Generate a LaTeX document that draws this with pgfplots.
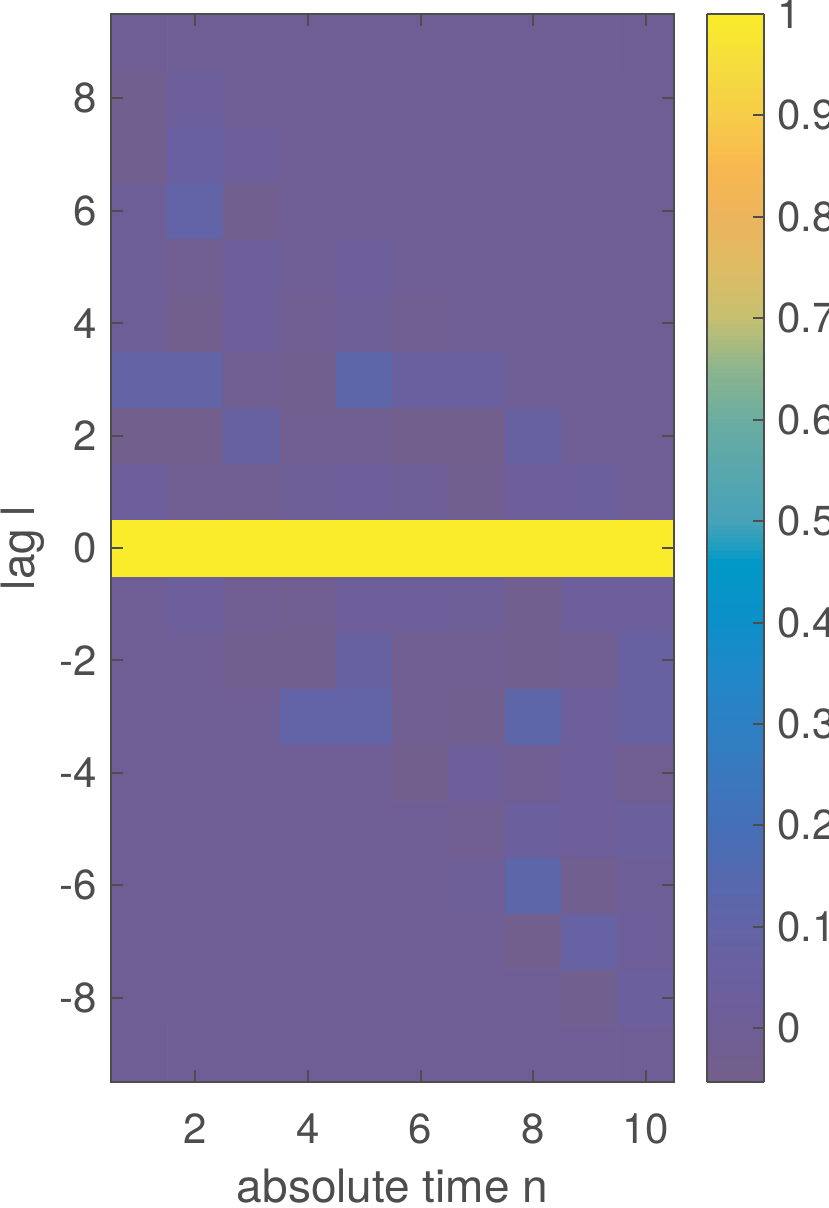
\documentclass[border=0pt]{standalone}
\usepackage{pgfplots}
\pgfplotsset{compat=1.18}
\usepackage{fontspec}
\setmainfont{TeX Gyre Heros}
\definecolor{axgray}{RGB}{77,77,77}
\pgfplotsset{
  colormap={mattmap}{
    rgb255(0pt)=(115,95,138)
    rgb255(53pt)=(111,94,149)
    rgb255(103pt)=(106,95,159)
    rgb255(153pt)=(99,100,167)
    rgb255(203pt)=(86,105,175)
    rgb255(253pt)=(68,112,184)
    rgb255(303pt)=(58,120,190)
    rgb255(353pt)=(46,128,196)
    rgb255(403pt)=(31,136,200)
    rgb255(453pt)=(13,144,201)
    rgb255(513pt)=(0,153,198)
    rgb255(530pt)=(35,158,192)
    rgb255(553pt)=(71,162,184)
    rgb255(603pt)=(88,167,174)
    rgb255(653pt)=(106,173,160)
    rgb255(703pt)=(140,181,142)
    rgb255(753pt)=(197,192,112)
    rgb255(803pt)=(222,188,100)
    rgb255(853pt)=(236,180,92)
    rgb255(903pt)=(249,184,80)
    rgb255(953pt)=(246,204,72)
    rgb255(1003pt)=(245,221,62)
    rgb255(1053pt)=(250,236,42)
  },
  mybox/.style={
    axis line style={axgray, line width=1bp},
    every tick/.style={axgray, line width=1bp},
    tick label style={text=axgray, font=\fontsize{21bp}{25bp}\selectfont},
    label style={text=axgray, font=\fontsize{23bp}{27bp}\selectfont},
    tick align=inside,
  },
}
\begin{document}
\begin{tikzpicture}
\path[use as bounding box] (-55.5bp,-63bp) rectangle (359bp,541bp);
\begin{axis}[
  mybox,
  at={(0,0)}, anchor=south west,
  scale only axis, width=281.5bp, height=534bp,
  xmin=0.5, xmax=10.5, ymin=-9.5, ymax=9.5,
  xtick={2,4,6,8,10}, xticklabels={2,4,6,8,10},
  ytick={-8,-6,-4,-2,0,2,4,6,8}, yticklabels={-8,-6,-4,-2,0,2,4,6,8},
  tick pos=both,
  xticklabel pos=bottom, yticklabel pos=left,
  major tick length=6bp,
  xticklabel style={yshift=-12.5bp},
  yticklabel style={xshift=-3.5bp},
  xlabel={absolute time n},
  xlabel style={yshift=-5.5bp},
  ylabel={lag l},
  ylabel style={yshift=0.5bp},
  colormap name=mattmap,
  point meta min=-0.053, point meta max=1,
  axis on top,
  colorbar sampled,
  colorbar style={
    mybox,
    samples=260,
    at={(parent axis.north east)}, anchor=north west, xshift=8bp,
    width=28.5bp,
    ytick={0,0.1,0.2,0.3,0.4,0.5,0.6,0.7,0.8,0.9,1},
    yticklabels={0,0.1,0.2,0.3,0.4,0.5,0.6,0.7,0.8,0.9,1},
    ytick pos=right, yticklabel pos=right,
    major tick length=5.5bp,
    yticklabel style={xshift=3bp},
  },
]
\addplot[matrix plot*, mesh/cols=10, point meta=explicit] coordinates {
(1,-9)[0] (2,-9)[0] (3,-9)[0] (4,-9)[0] (5,-9)[0] (6,-9)[0] (7,-9)[0] (8,-9)[0] (9,-9)[0] (10,-9)[0]
(1,-8)[0] (2,-8)[0] (3,-8)[0] (4,-8)[0] (5,-8)[0] (6,-8)[0] (7,-8)[0] (8,-8)[0] (9,-8)[-0.03] (10,-8)[0.04]
(1,-7)[0] (2,-7)[0] (3,-7)[0] (4,-7)[0] (5,-7)[0] (6,-7)[0] (7,-7)[0] (8,-7)[-0.035] (9,-7)[0.08] (10,-7)[0.02]
(1,-6)[0] (2,-6)[0] (3,-6)[0] (4,-6)[0] (5,-6)[0] (6,-6)[0] (7,-6)[0.01] (8,-6)[0.12] (9,-6)[-0.03] (10,-6)[0.01]
(1,-5)[0] (2,-5)[0] (3,-5)[0] (4,-5)[0] (5,-5)[0] (6,-5)[0] (7,-5)[-0.015] (8,-5)[0.04] (9,-5)[0.02] (10,-5)[0.04]
(1,-4)[0] (2,-4)[0] (3,-4)[0] (4,-4)[0] (5,-4)[0] (6,-4)[-0.035] (7,-4)[0.02] (8,-4)[-0.01] (9,-4)[0.02] (10,-4)[-0.02]
(1,-3)[0] (2,-3)[0] (3,-3)[0] (4,-3)[0.1] (5,-3)[0.1] (6,-3)[-0.02] (7,-3)[-0.03] (8,-3)[0.12] (9,-3)[0.03] (10,-3)[0.07]
(1,-2)[0] (2,-2)[0] (3,-2)[-0.03] (4,-2)[-0.03] (5,-2)[0.07] (6,-2)[-0.02] (7,-2)[-0.02] (8,-2)[-0.03] (9,-2)[-0.02] (10,-2)[0.07]
(1,-1)[0] (2,-1)[0.03] (3,-1)[-0.01] (4,-1)[-0.02] (5,-1)[0.02] (6,-1)[0.02] (7,-1)[0.01] (8,-1)[-0.03] (9,-1)[0.03] (10,-1)[0.03]
(1,0)[1] (2,0)[1] (3,0)[1] (4,0)[1] (5,0)[1] (6,0)[1] (7,0)[1] (8,0)[1] (9,0)[1] (10,0)[1]
(1,1)[0.03] (2,1)[-0.01] (3,1)[-0.025] (4,1)[0.01] (5,1)[0.02] (6,1)[0.01] (7,1)[-0.03] (8,1)[0.02] (9,1)[0.04] (10,1)[0]
(1,2)[-0.04] (2,2)[-0.04] (3,2)[0.07] (4,2)[-0.02] (5,2)[-0.02] (6,2)[-0.035] (7,2)[-0.035] (8,2)[0.07] (9,2)[0] (10,2)[0]
(1,3)[0.09] (2,3)[0.09] (3,3)[-0.02] (4,3)[-0.03] (5,3)[0.12] (6,3)[0.05] (7,3)[0.05] (8,3)[0] (9,3)[0] (10,3)[0]
(1,4)[0.01] (2,4)[-0.04] (3,4)[0.02] (4,4)[-0.01] (5,4)[0.01] (6,4)[-0.02] (7,4)[0] (8,4)[0] (9,4)[0] (10,4)[0]
(1,5)[0.01] (2,5)[-0.02] (3,5)[0.03] (4,5)[0] (5,5)[0.03] (6,5)[0] (7,5)[0] (8,5)[0] (9,5)[0] (10,5)[0]
(1,6)[0.01] (2,6)[0.1] (3,6)[-0.03] (4,6)[0] (5,6)[0] (6,6)[0] (7,6)[0] (8,6)[0] (9,6)[0] (10,6)[0]
(1,7)[-0.03] (2,7)[0.06] (3,7)[0.02] (4,7)[0] (5,7)[0] (6,7)[0] (7,7)[0] (8,7)[0] (9,7)[0] (10,7)[0]
(1,8)[-0.03] (2,8)[0.03] (3,8)[0] (4,8)[0] (5,8)[0] (6,8)[0] (7,8)[0] (8,8)[0] (9,8)[0] (10,8)[0]
(1,9)[0] (2,9)[0] (3,9)[0] (4,9)[0] (5,9)[0] (6,9)[0] (7,9)[0] (8,9)[0] (9,9)[0] (10,9)[0]
};
\end{axis}
\end{tikzpicture}
\end{document}
